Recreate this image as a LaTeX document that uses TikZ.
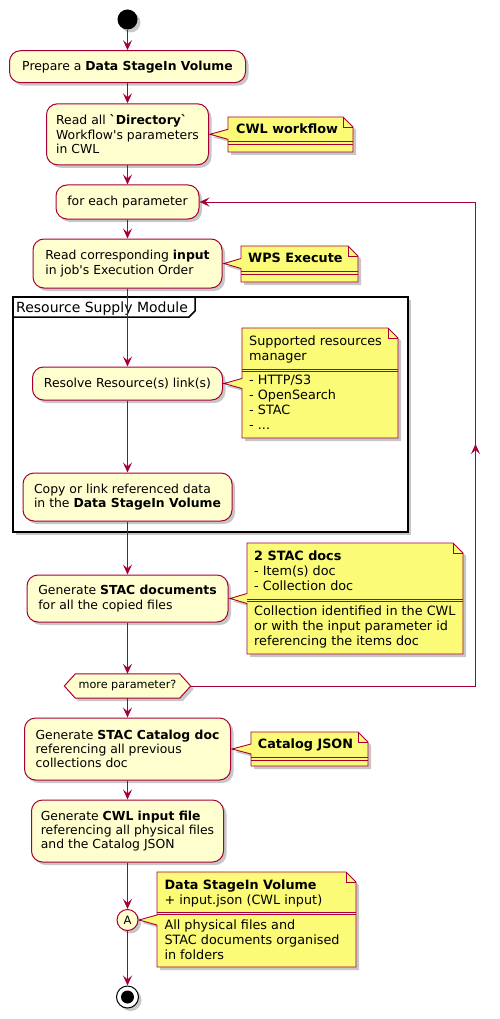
\documentclass[tikz,border=0pt]{standalone}
\usepackage{fontspec}
\newfontfamily\dv{DejaVu Sans}
\usetikzlibrary{arrows.meta,shadows,decorations.markings}
\definecolor{pbord}{HTML}{A80036}
\definecolor{actfill}{HTML}{FEFECE}
\definecolor{notefill}{HTML}{FBFB77}
\newcommand{\umlnote}[8]{%
  % #1 x1, #2 y1, #3 x2, #4 y2, #5 tip x, #6 tip y, #7 sep1, #8 sep2
  \path[notebody] (#1,#2) -- ({#3-10},#2) -- (#3,{#2+10}) -- (#3,#4) -- (#1,#4)
     -- (#1,{#6+5}) -- (#5,#6) -- (#1,{#6-5}) -- cycle;
  \draw[noteline] ({#3-10},#2) -- ({#3-10},{#2+10}) -- (#3,{#2+10});
  \draw[noteline] (#1,#7) -- (#3,#7) (#1,#8) -- (#3,#8);
}
\newcommand{\fl}{\rule{0pt}{10pt}}
\begin{document}
\begin{tikzpicture}[x=1pt,y=-1pt,
  shad/.style={drop shadow={shadow xshift=3pt,shadow yshift=-3pt,opacity=0.22,fill=black}},
  act/.style={draw=pbord, fill=actfill, line width=1pt, rounded corners=11pt,
    align=left, inner sep=0pt, font={\dv\fontsize{12.4}{14.3}\selectfont}, shad},
  notebody/.style={draw=pbord, fill=notefill, line width=0.9pt, shad},
  noteline/.style={draw=pbord, line width=0.9pt},
  ntext/.style={anchor=north west, inner sep=0pt, align=left,
    font={\dv\fontsize{12.8}{15}\selectfont}},
  arr/.style={draw=pbord, line width=1pt, -{Stealth[length=10pt,width=9pt,inset=4pt]}},
  ln/.style={draw=pbord, line width=1pt},
]
\useasboundingbox (0,0) rectangle (500,1019);

% partition
\draw[line width=1.5pt, fill=white, shad] (13,297) rectangle (408,532);
\draw[line width=1.5pt] (13,317) -- (189,317) -- (195,311) -- (195,297);
\node[anchor=base west, inner sep=0pt, font={\dv\fontsize{14}{16}\selectfont}] (ptitle) at (16,312.7) {Resource Supply Module};

% notes
\umlnote{228}{117}{353}{152}{210}{134.3}{141.7}{144.2}
\node[ntext] (cwlt) at (236,123.3) {\fl\textbf{CWL workflow}};

\umlnote{241}{246}{358}{282}{224}{263.5}{271.7}{274.2}
\node[ntext] (wpst) at (248,252.7) {\fl\textbf{WPS Execute}};

\umlnote{242}{328}{398}{438}{224}{383.5}{369}{371.5}
\node[ntext] (supt1) at (249,335) {\fl Supported resources\\manager};
\node[ntext] (supt2) at (249,374.3) {\fl - HTTP/S3\\- OpenSearch\\- STAC\\- ...};

\umlnote{247}{543}{463}{654}{230}{598.5}{599}{601.5}
\node[ntext] (stact1) at (254,550.7) {\fl\textbf{2 STAC docs}\\- Item(s) doc\\- Collection doc};
\node[ntext] (stact2) at (254,605.7) {\fl Collection identified in the CWL\\or with the input parameter id\\referencing the items doc};

\umlnote{251}{732}{368}{766}{232}{749}{757.3}{760.2}
\node[ntext] (catt) at (257.7,738.3) {\fl\textbf{Catalog JSON}};

\umlnote{157}{872}{356}{967}{139}{920}{912}{914.5}
\node[ntext] (datt1) at (164.3,879) {\fl\textbf{Data StageIn Volume}\\+ input.json (CWL input)};
\node[ntext] (datt2) at (164.3,919) {\fl All physical files and\\STAC documents organised\\in folders};

% activity nodes
\node[circle, fill=black, minimum size=20pt, inner sep=0pt, shad] (start) at (127.5,19.5) {};
\node[act, minimum width=236pt, minimum height=32pt] (n1) at (127.5,66.7) {Prepare a \textbf{Data StageIn Volume}};
\node[act, minimum width=162pt, minimum height=61pt] (n2) at (127.5,134.3) {Read all \textbf{`Directory`}\\Workflow's parameters\\in CWL};
\node[act, minimum width=143pt, minimum height=34pt] (n3) at (127.5,202) {for each parameter};
\node[act, minimum width=189pt, minimum height=49pt] (n4) at (127.5,263.5) {Read corresponding \textbf{input}\\in job's Execution Order};
\node[act, minimum width=190pt, minimum height=33pt] (res) at (127.5,383.5) {Resolve Resource(s) link(s)};
\node[act, minimum width=209pt, minimum height=48pt] (copy) at (127.5,497) {Copy or link referenced data\\in the \textbf{Data StageIn Volume}};
\node[act, minimum width=201pt, minimum height=47pt] (gen) at (127.5,598.5) {Generate \textbf{STAC documents}\\for all the copied files};
\node[inner sep=0pt, minimum width=126pt, minimum height=24pt, font={\dv\fontsize{11.2}{13}\selectfont}] (dia) at (127.5,686) {more parameter?};
\fill[actfill, draw=pbord, line width=1pt, shad] (dia.west) -- ([xshift=11pt]dia.north west) -- ([xshift=-11pt]dia.north east) -- (dia.east) -- ([xshift=-11pt]dia.south east) -- ([xshift=11pt]dia.south west) -- cycle;
\node[inner sep=0pt, font={\dv\fontsize{11.2}{13}\selectfont}] (diat) at (dia) {more parameter?};
\node[act, minimum width=206pt, minimum height=62pt] (cat) at (127.5,749) {Generate \textbf{STAC Catalog doc}\\referencing all previous\\collections doc};
\node[act, minimum width=192pt, minimum height=62pt] (cwl) at (127.5,831) {Generate \textbf{CWL input file}\\referencing all physical files\\and the Catalog JSON};
\node[circle, draw=pbord, fill=actfill, line width=1pt, minimum size=21pt, inner sep=0pt, font={\dv\fontsize{11.5}{13}\selectfont}, shad] (A) at (127.5,920) {A};
\node[circle, draw=black, fill=white, line width=1pt, minimum size=22pt, inner sep=0pt, shad] (end) at (127.5,997) {};
\node[circle, fill=black, minimum size=13pt, inner sep=0pt] (endin) at (end) {};

% connectors
\draw[arr] (start) -- (n1);
\draw[arr] (n1) -- (n2);
\draw[arr] (n2) -- (n3);
\draw[arr] (n3) -- (n4);
\draw[arr] (n4) -- (res);
\draw[arr] (res) -- (copy);
\draw[arr] (copy) -- (gen);
\draw[arr] (gen) -- (dia.north);
\draw[arr] (dia.south) -- (cat);
\draw[arr] (cat) -- (cwl);
\draw[arr] (cwl) -- (A);
\draw[arr] (A) -- (end);
% loop back
\coordinate (lb) at (475.5,686);
\coordinate (lt) at (475.5,202);
\draw[ln] (dia.east) -- (lb);
\draw[ln, postaction={decorate}, decoration={markings, mark=at position 0.5 with {\arrow[pbord]{Stealth[length=10pt,width=9pt,inset=4pt]}}}] (lb) -- (lt);
\draw[arr] (lt) -- (n3.east);
\end{tikzpicture}
\end{document}
